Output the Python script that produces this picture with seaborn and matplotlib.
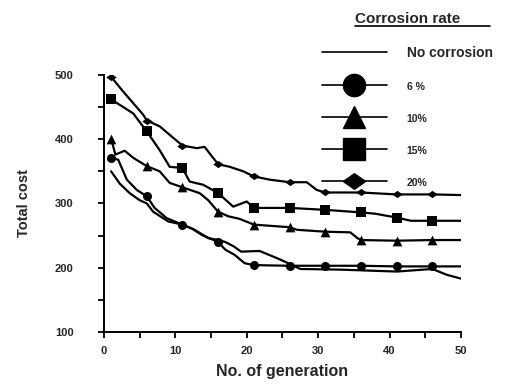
import pandas as pd
import matplotlib.pyplot as plt
import seaborn as sns
from matplotlib.lines import Line2D
from matplotlib.ticker import MultipleLocator

# values
gen_none = [1, 2.2, 3.6, 5, 6, 6.9, 9, 11, 12.7, 14.6, 16, 17, 18.2, 19.2, 21.8, 24.2, 26, 27.5, 33, 41, 46, 48, 50]
cost_none = [350, 331, 316, 305, 300, 287, 272, 267, 259, 246, 243, 240, 233, 225, 226, 215, 206, 198, 197, 194, 198, 189, 183]

gen_6 = [1, 2, 3.2, 4.6, 6, 7.1, 8.8, 11, 12.3, 13.7, 16, 17, 18.3, 19.7, 21, 26, 31, 36, 41, 46, 50]
cost_6 = [371, 368, 337, 321, 311, 293, 277, 267, 261, 251, 240, 228, 220, 207, 204, 203, 203, 203, 202, 202, 202]

gen_10 = [1, 1.6, 2.9, 4.1, 6, 7.8, 9.2, 11, 13.4, 14.6, 16, 17.4, 19, 21, 26, 27, 31, 34.5, 35.5, 36, 41, 46, 50]
cost_10 = [401, 376, 382, 371, 358, 350, 332, 325, 316, 305, 287, 280, 276, 267, 263, 259, 256, 255, 246, 243, 242, 243, 243]

gen_15 = [1, 4.1, 6, 7.8, 9.2, 11, 12, 13.9, 16, 18.1, 20, 21, 26, 31, 36, 38, 41, 43, 46, 50]
cost_15 = [462, 440, 412, 383, 357, 355, 334, 329, 316, 295, 303, 293, 293, 290, 286, 284, 278, 273, 273, 273]

gen_20 = [1, 2.7, 4.1, 5.5, 6, 7.8, 9.5, 11, 13, 14.1, 15, 16, 17.6, 19.5, 21, 23.2, 26, 28.4, 29.8, 31, 36, 41, 46, 50]
cost_20 = [497, 474, 456, 438, 429, 420, 404, 390, 386, 388, 375, 361, 357, 350, 342, 337, 333, 333, 321, 317, 317, 314, 314, 313]

rates = ["No corrosion", "6 %", "10%", "15%", "20%"]
marker_gens = [1, 6, 11, 16, 21, 26, 31, 36, 41, 46]

frames = []
for rate, g, c in zip(rates, [gen_none, gen_6, gen_10, gen_15, gen_20],
                      [cost_none, cost_6, cost_10, cost_15, cost_20]):
    frames.append(pd.DataFrame({"generation": g, "cost": c, "rate": rate}))
df = pd.concat(frames, ignore_index=True)

sns.set_style("ticks")
plt.rcParams["font.family"] = ["Liberation Sans", "DejaVu Sans"]
plt.rcParams["font.weight"] = "bold"

diamond = [(-1, 0), (0, 0.7), (1, 0), (0, -0.7), (-1, 0)]
markers = {"6 %": ("o", 6.5), "10%": ("^", 7), "15%": ("s", 7.5), "20%": (diamond, 7.5)}

fig = plt.figure(figsize=(5.25, 3.86), dpi=100)
ax = fig.add_axes([0.198, 0.140, 0.680, 0.666])

sns.lineplot(data=df, x="generation", y="cost", hue="rate", palette=["black"] * 5,
             sort=False, estimator=None, legend=False, lw=1.6, ax=ax)

# markers every 5 generations
for rate, (m, ms) in markers.items():
    sub = df[(df["rate"] == rate) & (df["generation"].isin(marker_gens))]
    sns.scatterplot(data=sub, x="generation", y="cost", marker=m, s=ms ** 2,
                    color="black", edgecolor="black", linewidth=0, ax=ax, zorder=3)

ax.set_xlim(0, 50)
ax.set_ylim(100, 500)
ax.xaxis.set_major_locator(MultipleLocator(10))
ax.xaxis.set_minor_locator(MultipleLocator(5))
ax.yaxis.set_major_locator(MultipleLocator(100))
ax.yaxis.set_minor_locator(MultipleLocator(50))
ax.tick_params(axis="both", which="both", length=4, width=1.3, color="black")
ax.tick_params(axis="y", which="major", pad=18, labelsize=8)
ax.tick_params(axis="x", which="major", pad=6, labelsize=8)
for lab in ax.get_xticklabels() + ax.get_yticklabels():
    lab.set_fontweight("bold")
sns.despine(ax=ax)
for sp in ["left", "bottom"]:
    ax.spines[sp].set_linewidth(1.4)
    ax.spines[sp].set_color("black")

ax.set_xlabel("No. of generation", fontsize=11.5, fontweight="bold", labelpad=6)
ax.set_ylabel("Total cost", fontsize=10.5, fontweight="bold", labelpad=17)

# legend
handles = [Line2D([], [], color="black", lw=1.2)]
for rate in rates[1:]:
    m, ms = markers[rate]
    handles.append(Line2D([], [], color="black", lw=1.2, marker=m, markersize=16))
leg = ax.legend(handles, rates, loc="upper left", bbox_to_anchor=(0.613, 0.880),
                bbox_transform=fig.transFigure, frameon=False, borderpad=0,
                borderaxespad=0, handlelength=4.7, handletextpad=1.4,
                labelspacing=1.45, prop={"weight": "bold", "size": 10})
for i, t in enumerate(leg.get_texts()):
    if i > 0:
        t.set_fontsize(7.5)

fig.text(0.676, 0.94, "Corrosion rate", fontsize=11, fontweight="bold", ha="left", va="baseline")
fig.add_artist(Line2D([0.676, 0.933], [0.932, 0.932], color="black", lw=1.2,
                      transform=fig.transFigure))

fig.savefig("out.png", dpi=100)
